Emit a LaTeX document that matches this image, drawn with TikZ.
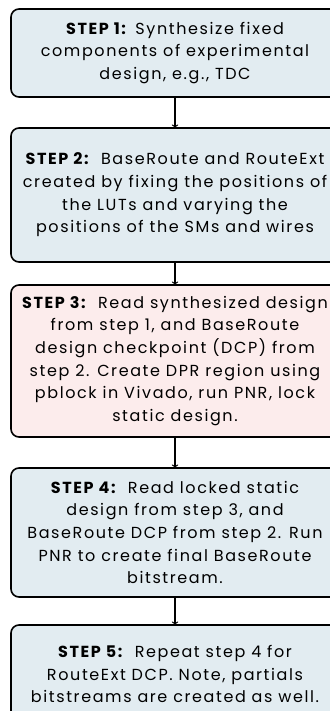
\documentclass[tikz,border=0pt]{standalone}
\usepackage{fontspec}
\setmainfont{Poppins}[LetterSpace=10]
\usetikzlibrary{positioning}

\definecolor{stepblue}{RGB}{226,236,241}
\definecolor{steppink}{RGB}{252,236,236}

\begin{document}
\begin{tikzpicture}[x=1pt, y=1pt, node distance=31pt,
  stepbox/.style={draw=black, line width=1.6pt, rounded corners=8pt,
    fill=stepblue, minimum width=328pt, inner sep=0pt, outer sep=0pt,
    align=center, font=\fontsize{16}{22.7}\selectfont},
  flow/.style={->, line width=1.3pt}]
  \useasboundingbox (0,0) rectangle (329,-711);

  \node[stepbox, minimum height=88pt, anchor=north] (s1) at (175,-9)
    {\textbf{STEP 1:} Synthesize fixed\\components of experimental\\design, e.g., TDC};
  \node[stepbox, minimum height=134pt] (s2) [below=of s1]
    {\textbf{STEP 2:}\hspace{3pt} BaseRoute and RouteExt\\created by fixing the positions of\\the LUTs and varying the\\positions of the SMs and wires};
  \node[stepbox, fill=steppink, minimum height=152pt] (s3) [below=23pt of s2]
    {\textbf{STEP 3:}\hspace{3pt} Read synthesized design\\from step 1, and BaseRoute\\design checkpoint (DCP) from\\step 2. Create DPR region using\\pblock in Vivado, run PNR, lock\\static design.};
  \node[stepbox, minimum height=129pt] (s4) [below=of s3]
    {\textbf{STEP 4:}\hspace{3pt} Read locked static\\design from step 3, and\\BaseRoute DCP from step 2. Run\\PNR to create final BaseRoute\\bitstream.};
  \node[stepbox, minimum height=98pt] (s5) [below=28pt of s4]
    {\textbf{STEP 5:}\hspace{3pt} Repeat step 4 for\\RouteExt DCP. Note, partials\\bitstreams are created as well.};

  \draw[flow] (s1) -- (s2);
  \draw[flow] (s2) -- (s3);
  \draw[flow] (s3) -- (s4);
  \draw[flow] (s4) -- (s5);
\end{tikzpicture}
\end{document}
